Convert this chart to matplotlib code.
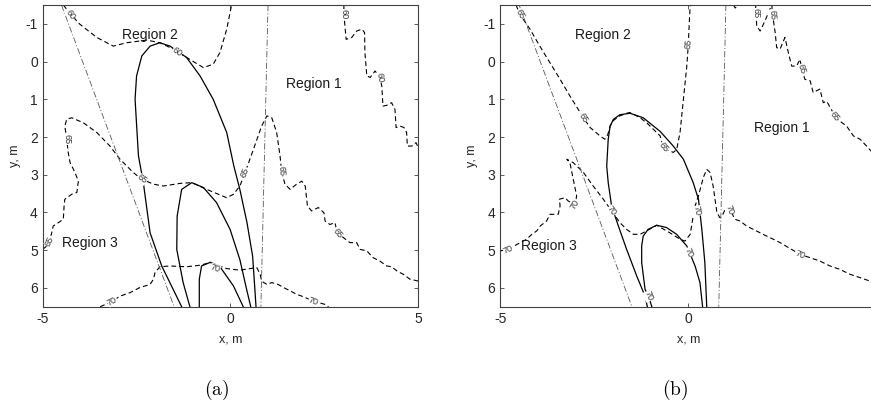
import matplotlib.pyplot as plt

plt.rcParams['font.family'] = ['Liberation Sans', 'DejaVu Sans']
plt.rcParams['mathtext.fontset'] = 'cm'
plt.rcParams['lines.scale_dashes'] = False
plt.rcParams['axes.unicode_minus'] = False

# region boundaries (same in both cases)
divider_left = [(-4.5, -1.5), (-1.5, 6.5)]
divider_right = [(1.0, -1.5), (0.81, 6.5)]

x_ticks = [-5, 0, 5]
y_ticks = [-1, 0, 1, 2, 3, 4, 5, 6]

# ---------------- case (a) ----------------
a_solid_outer = [(-1.30, 6.5), (-1.83, 5.42), (-2.14, 4.54), (-2.32, 3.21), (-2.45, 2.50),
                 (-2.54, 1.00), (-2.50, 0.38), (-2.36, -0.15), (-2.14, -0.41), (-1.88, -0.50),
                 (-1.61, -0.41), (-1.17, -0.11), (-0.81, 0.38), (-0.46, 1.00), (-0.10, 1.88),
                 (0.09, 2.77), (0.25, 3.39), (0.44, 4.27), (0.59, 5.16), (0.65, 6.04), (0.68, 6.5)]
a_solid_mid = [(-1.08, 6.5), (-1.26, 5.86), (-1.43, 4.98), (-1.42, 4.10), (-1.30, 3.39),
               (-1.03, 3.21), (-0.72, 3.34), (-0.37, 3.74), (-0.01, 4.45), (0.25, 5.25),
               (0.43, 6.04), (0.54, 6.5)]
a_solid_inner = [(-0.83, 6.5), (-0.83, 5.77), (-0.77, 5.42), (-0.53, 5.32), (-0.28, 5.44),
                 (0.08, 5.95), (0.34, 6.5)]

a_c60_left = [(-4.45, -1.5), (-4.25, -1.25), (-4.01, -0.99), (-3.56, -0.64), (-3.12, -0.41),
              (-2.76, -0.50), (-2.23, -0.57), (-1.88, -0.50), (-1.52, -0.33), (-1.17, -0.11),
              (-0.72, 0.16), (-0.46, 0.07), (-0.28, -0.24), (-0.10, -0.86), (0.03, -1.5)]
a_c60_right = [(3.02, -1.5), (3.02, -1.25), (3.08, -0.59), (3.23, -0.64), (3.36, -0.81),
               (3.50, -0.86), (3.57, -0.77), (3.58, -0.24), (3.63, 0.38), (3.72, 0.42),
               (3.85, 0.25), (3.98, 0.42), (4.03, 0.65), (4.06, 1.18), (4.16, 1.16),
               (4.29, 1.09), (4.38, 1.27), (4.41, 1.75), (4.52, 1.71), (4.62, 1.75),
               (4.69, 1.88), (4.71, 2.24), (4.83, 2.24), (4.94, 2.15), (5.0, 2.28)]
a_c65 = [(-5.0, 4.98), (-4.89, 4.89), (-4.82, 4.76), (-4.76, 4.54), (-4.72, 4.36),
         (-4.58, 4.27), (-4.45, 4.18), (-4.43, 3.83), (-4.41, 3.65), (-4.23, 3.52),
         (-4.09, 3.47), (-4.05, 3.17), (-4.14, 2.94), (-4.27, 2.68), (-4.32, 2.41),
         (-4.36, 2.06), (-4.41, 1.71), (-4.36, 1.53), (-4.23, 1.49), (-3.92, 1.62),
         (-3.56, 1.88), (-3.21, 2.24), (-2.94, 2.59), (-2.59, 2.94), (-2.36, 3.12),
         (-2.05, 3.25), (-1.79, 3.30), (-1.34, 3.23), (-1.03, 3.21), (-0.63, 3.39),
         (-0.10, 3.61), (0.08, 3.52), (0.25, 3.30), (0.39, 2.94), (0.61, 2.33),
         (0.83, 1.71), (0.97, 1.44), (1.10, 1.49), (1.23, 1.88), (1.32, 2.50),
         (1.36, 2.90), (1.45, 3.25), (1.59, 3.39), (1.76, 3.25), (1.90, 3.17),
         (1.99, 3.30), (2.03, 3.65), (2.05, 3.83), (2.16, 3.96), (2.34, 3.87),
         (2.49, 4.01), (2.52, 4.23), (2.65, 4.32), (2.78, 4.27), (2.85, 4.54),
         (3.01, 4.67), (3.18, 4.80), (3.36, 4.80), (3.45, 4.98), (3.63, 5.02),
         (3.80, 5.20), (3.98, 5.29), (4.16, 5.42), (4.29, 5.44), (4.43, 5.55),
         (4.60, 5.64), (4.78, 5.77), (5.0, 5.82)]
a_c70 = [(-3.47, 6.5), (-3.21, 6.39), (-2.94, 6.22), (-2.68, 6.13), (-2.41, 5.99),
         (-2.14, 5.91), (-2.05, 5.77), (-2.01, 5.60), (-1.88, 5.44), (-1.61, 5.42),
         (-1.17, 5.44), (-0.81, 5.40), (-0.54, 5.33), (-0.10, 5.49), (0.25, 5.53),
         (0.52, 5.49), (0.70, 5.46), (0.79, 5.64), (0.83, 5.82), (0.97, 5.91),
         (1.10, 5.86), (1.27, 5.91), (1.41, 5.99), (1.59, 6.08), (1.76, 6.17),
         (1.90, 6.22), (2.21, 6.35), (2.52, 6.44), (2.61, 6.5)]

a_labels = [('60', -4.25, -1.25, -55), ('60', -1.42, -0.25, -35), ('60', 3.02, -1.25, -90),
            ('60', 3.98, 0.42, -80), ('65', -4.36, 2.06, -90), ('65', -4.81, 4.76, 65),
            ('65', -2.36, 3.12, -35), ('65', 0.39, 2.94, 70), ('65', 1.36, 2.90, -85),
            ('65', 2.85, 4.54, -50), ('70', -3.15, 6.35, 27), ('70', -0.41, 5.49, -20),
            ('70', 2.21, 6.35, -20)]
a_regions = [('Region 2', -2.14, -0.70), ('Region 1', 2.21, 0.60), ('Region 3', -3.74, 4.80)]

# ---------------- case (b) ----------------
b_solid_outer = [(-1.09, 6.5), (-1.15, 6.22), (-1.37, 5.69), (-1.64, 4.98), (-1.86, 4.36),
                 (-2.04, 3.83), (-2.13, 3.21), (-2.17, 2.77), (-2.13, 2.06), (-2.08, 1.71),
                 (-1.99, 1.53), (-1.82, 1.41), (-1.55, 1.37), (-1.20, 1.49), (-0.75, 1.85),
                 (-0.40, 2.24), (-0.13, 2.59), (0.13, 3.21), (0.27, 3.65), (0.36, 4.45),
                 (0.44, 5.33), (0.49, 6.5)]
b_solid_inner = [(-0.97, 6.5), (-1.06, 6.22), (-1.15, 6.04), (-1.24, 5.33), (-1.24, 4.89),
                 (-1.20, 4.63), (-1.07, 4.45), (-0.84, 4.34), (-0.58, 4.40), (-0.31, 4.58),
                 (-0.04, 4.89), (0.18, 5.42), (0.31, 5.86), (0.38, 6.5)]

b_c65_left = [(-4.58, -1.5), (-4.48, -1.25), (-4.21, -0.86), (-3.95, -0.41), (-3.68, 0.03),
              (-3.41, 0.47), (-3.15, 0.91), (-2.79, 1.49), (-2.61, 1.75), (-2.35, 1.97),
              (-2.22, 2.06), (-2.14, 1.93), (-2.08, 1.71), (-1.99, 1.56), (-1.82, 1.44),
              (-1.64, 1.37), (-1.55, 1.35), (-1.28, 1.49), (-1.11, 1.62), (-0.75, 1.97),
              (-0.66, 2.28), (-0.40, 2.41), (-0.31, 2.33), (-0.22, 1.88), (-0.13, 1.00),
              (-0.04, 0.12), (0.0, -0.46), (0.03, -1.12), (0.05, -1.5)]
b_c65_notch = [(1.20, -1.5), (1.25, -1.42), (1.31, -1.5)]
b_c65_right = [(1.79, -1.5), (1.80, -1.28), (1.82, -0.94), (1.91, -0.81), (2.04, -1.08),
               (2.17, -1.39), (2.22, -1.5), (2.24, -1.25), (2.31, -0.77), (2.35, -0.37),
               (2.44, -0.33), (2.57, -0.64), (2.66, -0.24), (2.75, 0.12), (2.88, 0.12),
               (2.97, -0.06), (3.02, 0.20), (3.10, 0.47), (3.24, 0.51), (3.32, 0.82),
               (3.50, 0.73), (3.59, 1.09), (3.68, 1.05), (3.90, 1.44), (4.03, 1.58),
               (4.21, 1.71), (4.39, 1.97), (4.57, 2.06), (4.74, 2.24), (4.86, 2.37),
               (5.0, 2.46)]
b_c70 = [(-5.0, 5.02), (-4.79, 4.98), (-4.56, 4.85), (-4.30, 4.71), (-4.16, 4.58),
         (-4.03, 4.49), (-3.94, 4.36), (-3.77, 4.23), (-3.68, 4.05), (-3.46, 4.05),
         (-3.41, 3.83), (-3.43, 3.65), (-3.28, 3.61), (-3.19, 3.70), (-3.01, 3.79),
         (-2.97, 3.56), (-3.06, 3.12), (-3.15, 2.68), (-3.23, 2.59), (-3.06, 2.68),
         (-2.79, 2.94), (-2.53, 3.30), (-2.26, 3.65), (-2.04, 3.96), (-1.82, 4.27),
         (-1.64, 4.45), (-1.46, 4.58), (-1.28, 4.58), (-1.11, 4.49), (-0.84, 4.34),
         (-0.49, 4.54), (-0.22, 4.71), (-0.09, 4.76), (0.05, 4.58), (0.13, 4.10),
         (0.18, 3.83), (0.27, 3.56), (0.40, 3.07), (0.49, 2.86), (0.58, 2.94),
         (0.66, 3.30), (0.71, 3.65), (0.76, 4.00), (0.84, 4.14), (0.92, 4.05),
         (1.00, 3.87), (1.11, 3.92), (1.24, 4.18), (1.38, 4.23), (1.55, 4.36),
         (1.73, 4.45), (1.91, 4.54), (2.09, 4.63), (2.26, 4.71), (2.44, 4.80),
         (2.66, 4.93), (2.97, 5.11), (3.24, 5.20), (3.50, 5.29), (3.77, 5.42),
         (4.03, 5.51), (4.30, 5.64), (4.57, 5.73), (4.83, 5.82), (5.0, 5.86)]

b_labels = [('65', -4.48, -1.25, -60), ('65', -2.79, 1.49, -58), ('65', -0.66, 2.28, -49),
            ('65', 0.0, -0.46, 85), ('65', 1.80, -1.28, -90), ('65', 2.24, -1.25, -85),
            ('65', 3.02, 0.20, -70), ('65', 3.90, 1.44, -51), ('70', -4.79, 4.98, 24),
            ('70', -3.01, 3.79, 60), ('70', -2.04, 3.96, -54), ('70', 1.11, 3.92, -70),
            ('70', 2.97, 5.11, -24), ('70', -1.06, 6.22, -68), ('70', 0.22, 3.96, -80),
            ('70', 0.0, 5.07, -67)]
b_regions = [('Region 2', -2.26, -0.70), ('Region 1', 2.48, 1.75), ('Region 3', -3.72, 4.89)]


def draw_panel(ax, solids, dashed, labels, regions, xticklabels):
    for curve in solids:
        xs, ys = zip(*curve)
        ax.plot(xs, ys, color='black', lw=0.9)
    for curve in dashed:
        xs, ys = zip(*curve)
        ax.plot(xs, ys, color='black', lw=0.8, dashes=(3.5, 2.2))
    for line in (divider_left, divider_right):
        xs, ys = zip(*line)
        ax.plot(xs, ys, color='#555555', lw=0.6, dashes=(4.5, 1.5, 0.8, 1.5))
    for txt, x, y, rot in labels:
        ax.text(x, y, txt, fontsize=6.5, rotation=rot, ha='center', va='center',
                rotation_mode='anchor', color='#333333', zorder=5,
                bbox=dict(fc='white', ec='none', pad=0.1))
    for name, x, y in regions:
        ax.text(x, y, name, fontsize=10, ha='center', va='center', color='#1a1a1a')

    ax.set_xlim(-5, 5)
    ax.set_ylim(6.5, -1.5)
    ax.set_xticks(x_ticks)
    ax.set_xticklabels(xticklabels)
    ax.set_yticks(y_ticks)
    ax.tick_params(direction='in', top=True, right=True, length=3, width=0.6,
                   labelsize=10, color='#404040', labelcolor='#262626')
    for sp in ax.spines.values():
        sp.set_color('#404040')
        sp.set_linewidth(0.8)
    ax.set_xlabel('x, m', fontsize=9, color='#262626', labelpad=6)
    ax.set_ylabel('y, m', fontsize=9, color='#262626')
    ax.yaxis.set_label_coords(-0.058, 0.5)


fig = plt.figure(figsize=(8.71, 4.04), dpi=100)
ax_a = fig.add_axes([0.0490, 0.2408, 0.4312, 0.7468])
ax_b = fig.add_axes([0.5744, 0.2408, 0.4317, 0.7468])

draw_panel(ax_a, [a_solid_outer, a_solid_mid, a_solid_inner],
           [a_c60_left, a_c60_right, a_c65, a_c70], a_labels, a_regions,
           [str(t) for t in x_ticks])
# the right end of panel (b) runs past the figure edge, so its last label is left off
draw_panel(ax_b, [b_solid_outer, b_solid_inner],
           [b_c65_left, b_c65_notch, b_c65_right, b_c70], b_labels, b_regions,
           [str(t) for t in x_ticks[:-1]] + [''])

fig.text(217 / 871, 1 - 390 / 404, r'$\mathrm{(a)}$', fontsize=14, ha='center', va='center')
fig.text(675 / 871, 1 - 390 / 404, r'$\mathrm{(b)}$', fontsize=14, ha='center', va='center')

fig.savefig('out.png', dpi=100)
